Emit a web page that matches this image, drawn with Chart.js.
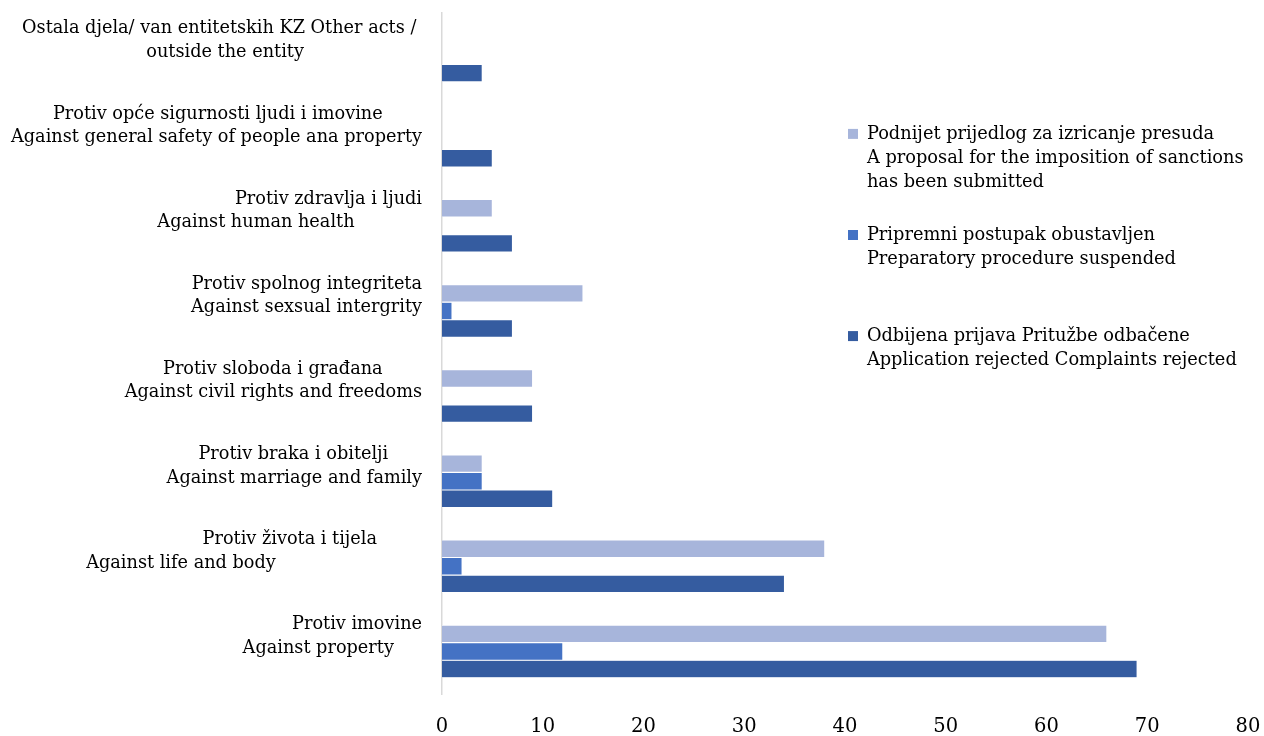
<!DOCTYPE html>
<html>
<head>
<meta charset="utf-8">
<script src="https://cdn.jsdelivr.net/npm/chart.js@4.4.1/dist/chart.umd.min.js"></script>
<style>
  html, body { margin: 0; padding: 0; background: #fff; }
</style>
</head>
<body>
<canvas id="bar_chart" width="1264" height="736"></canvas>
<script>
// categories, top to bottom
const categories = [
    ['Ostala djela/ van entitetskih KZ Other acts /', 'outside the entity'],
    ['Protiv opće sigurnosti ljudi i imovine', 'Against general safety of people ana property'],
    ['Protiv zdravlja i ljudi', 'Against human health'],
    ['Protiv spolnog integriteta', 'Against sexsual intergrity'],
    ['Protiv sloboda i građana', 'Against civil rights and freedoms'],
    ['Protiv braka i obitelji', 'Against marriage and family'],
    ['Protiv života i tijela', 'Against life and body'],
    ['Protiv imovine', 'Against property']
];

const seriesNames = [
    ['Podnijet prijedlog za izricanje presuda', 'A proposal for the imposition of sanctions', 'has been submitted'],
    ['Pripremni postupak obustavljen', 'Preparatory procedure suspended'],
    ['Odbijena prijava Pritužbe odbačene', 'Application rejected Complaints rejected']
];

const proposalSubmitted   = [0, 0, 5, 14, 9, 4, 38, 66];
const procedureSuspended  = [0, 0, 0, 1, 0, 4, 2, 12];
const applicationRejected = [4, 5, 7, 7, 9, 11, 34, 69];

const xTicks = [0, 10, 20, 30, 40, 50, 60, 70, 80];

// layout only: how far (px) each label line sits left of the common right edge
const labelIndent = [[7, 120], [39, 0], [1, 69], [0, 0], [39, 0], [33, 0], [43, 145], [0, 28]];

const FONT = '"DejaVu Serif", serif';
const LABEL_SIZE = 17.7;

const measure = document.createElement('canvas').getContext('2d');
measure.font = LABEL_SIZE + 'px ' + FONT;
const spaceW = measure.measureText(' ').width;

// place the legend inside the plot, like the original
const legendPlacer = {
    id: 'legendPlacer',
    afterLayout(chart) {
        const l = chart.legend;
        if (!l) return;
        l.left = 819;
        l.top = 96;
        l.right = 1264;
        l.bottom = 700;
        l.width = l.right - l.left;
        l.height = l.bottom - l.top;
    }
};

const ctx = document.getElementById('bar_chart').getContext('2d');
new Chart(ctx, {
    type: 'bar',
    data: {
        labels: categories,
        datasets: [
            { label: seriesNames[0], data: proposalSubmitted, backgroundColor: '#A7B5DB' },
            { label: seriesNames[1], data: procedureSuspended, backgroundColor: '#4472C4' },
            { label: seriesNames[2], data: applicationRejected, backgroundColor: '#355CA0' }
        ]
    },
    options: {
        indexAxis: 'y',
        responsive: false,
        animation: false,
        devicePixelRatio: 1,
        layout: { padding: { top: 13, right: 16, bottom: 0, left: 0 } },
        datasets: {
            bar: {
                categoryPercentage: 0.62,
                barPercentage: 1,
                borderColor: '#ffffff',
                borderWidth: 0.6
            }
        },
        scales: {
            x: {
                min: 0,
                max: 80,
                afterBuildTicks: (scale) => { scale.ticks = xTicks.map(v => ({ value: v })); },
                afterFit: (scale) => {
                    scale.height = 42;
                    scale.paddingLeft = 0;
                    scale.paddingRight = 0;
                },
                grid: { display: false, drawTicks: false },
                border: { display: false },
                ticks: {
                    color: '#000',
                    padding: 21,
                    font: { family: FONT, size: 19.5 },
                    maxRotation: 0
                }
            },
            y: {
                grid: { display: false, drawTicks: false },
                border: { display: true, color: '#D9D9D9', width: 1.5 },
                afterFit: (scale) => {
                    scale.width = 442;
                    scale.paddingTop = 0;
                    scale.paddingBottom = 0;
                },
                ticks: {
                    color: '#000',
                    padding: 20,
                    labelOffset: -15,
                    autoSkip: false,
                    font: { family: FONT, size: LABEL_SIZE, lineHeight: 1.33 },
                    callback: function (value, index) {
                        return categories[index].map((line, j) =>
                            line + ' '.repeat(Math.round(labelIndent[index][j] / spaceW)));
                    }
                }
            }
        },
        plugins: {
            tooltip: { enabled: false },
            legend: {
                position: 'chartArea',
                fullSize: false,
                align: 'start',
                labels: {
                    boxWidth: 10,
                    boxHeight: 10,
                    padding: 29,
                    color: '#000',
                    font: { family: FONT, size: 17.8, lineHeight: 1.35 },
                    generateLabels: (chart) => chart.data.datasets.map((ds, i) => ({
                        // the middle entry keeps an extra empty line of space below it
                        text: i === 1 ? ds.label.concat(['']) : ds.label,
                        fillStyle: ds.backgroundColor,
                        strokeStyle: ds.backgroundColor,
                        lineWidth: 0,
                        hidden: false,
                        fontColor: '#000',
                        datasetIndex: i
                    }))
                }
            }
        }
    },
    plugins: [legendPlacer]
});
</script>
</body>
</html>
